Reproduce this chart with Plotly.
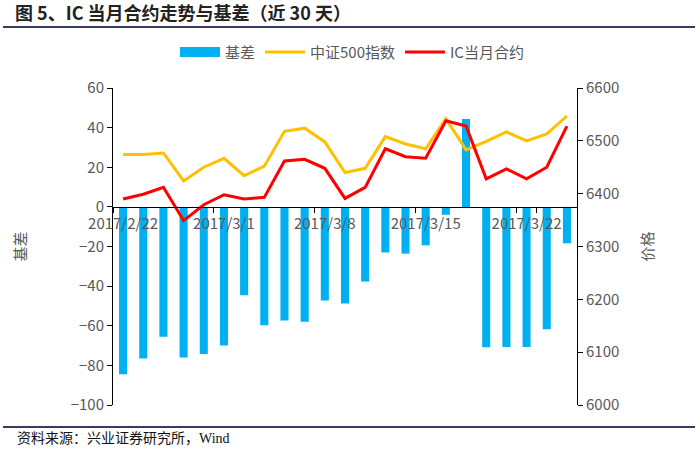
import plotly.graph_objects as go

dates = ["2017/2/22", "2017/2/23", "2017/2/24", "2017/2/27", "2017/2/28",
         "2017/3/1", "2017/3/2", "2017/3/3", "2017/3/6", "2017/3/7",
         "2017/3/8", "2017/3/9", "2017/3/10", "2017/3/13", "2017/3/14",
         "2017/3/15", "2017/3/16", "2017/3/17", "2017/3/20", "2017/3/21",
         "2017/3/22", "2017/3/23", "2017/3/24"]
basis = [-84.5, -76.5, -65.5, -76, -74.3, -70, -44.6, -59.8, -57.3, -58,
         -47.2, -48.8, -37.7, -23, -23.6, -19.4, -4, 44.3, -70.9, -70.7,
         -70.7, -61.8, -18.4]
csi500 = [6474, 6474, 6477, 6424, 6450, 6467, 6434, 6452, 6518, 6524,
          6498, 6440, 6448, 6508, 6494, 6485, 6542, 6483, 6499, 6517,
          6500, 6513, 6547]
ic_main = [6390, 6399, 6412, 6349, 6379, 6398, 6390, 6393, 6462, 6465,
           6448, 6391, 6412, 6485, 6470, 6467, 6538, 6528, 6428, 6447,
           6428, 6450, 6528]
tick_labels = ["2017/2/22", "2017/3/1", "2017/3/8", "2017/3/15", "2017/3/22"]

left_range = [-100, 60]
right_range = [6000, 6600]

FONT = "Noto Sans CJK SC, Noto Sans, sans-serif"
GRAY = "#595959"
BLUE = "#00B0F0"

fig = go.Figure()
# legend entry for the bars drawn as a wide rectangle (as in the original)
fig.add_trace(go.Scatter(x=[None], y=[None], name="基差", mode="lines",
                         line=dict(color=BLUE, width=10), yaxis="y",
                         legendgroup="basis"))
fig.add_trace(go.Bar(x=dates, y=basis, name="基差", marker_color=BLUE,
                     marker_line_width=0, yaxis="y", showlegend=False,
                     legendgroup="basis"))
fig.add_trace(go.Scatter(x=dates, y=csi500, name="中证500指数", mode="lines",
                         line=dict(color="#FFC000", width=3), yaxis="y2"))
fig.add_trace(go.Scatter(x=dates, y=ic_main, name="IC当月合约", mode="lines",
                         line=dict(color="#FF0000", width=3), yaxis="y2"))

zero_frac = (0 - left_range[0]) / (left_range[1] - left_range[0])

fig.update_layout(
    width=700, height=450,
    margin=dict(l=113, r=123, t=88, b=45),
    plot_bgcolor="white", paper_bgcolor="white",
    font=dict(family=FONT, size=15, color=GRAY),
    bargap=0.6,
    showlegend=True,
    legend=dict(orientation="h", x=0.515, xanchor="center", y=1.113,
                yanchor="middle", font=dict(size=15, color=GRAY),
                itemwidth=40, tracegroupgap=0),
    title=dict(text="<b>图 5、IC 当月合约走势与基差（近 30 天）</b>",
               x=15 / 700, xanchor="left", y=1 - 14 / 450, yanchor="middle",
               font=dict(family=FONT, size=18, color="#222222")),
    xaxis=dict(type="category", anchor="free", position=zero_frac,
               showline=True, linecolor="black", linewidth=1,
               ticks="outside", ticklen=5, tickcolor="black",
               tickson="boundaries", tickmode="array", tickvals=tick_labels,
               ticktext=tick_labels, tickangle=0, showgrid=False,
               zeroline=False, tickfont=dict(size=15, color=GRAY),
               ticklabelstandoff=3),
    yaxis=dict(range=left_range, dtick=20, showgrid=False, zeroline=False,
               showline=True, linecolor="black", linewidth=1,
               ticks="outside", ticklen=5, tickcolor="black",
               tickfont=dict(size=15, color=GRAY),
               title=dict(text="基差", standoff=40,
                          font=dict(size=15, color=GRAY))),
    yaxis2=dict(range=right_range, dtick=100, overlaying="y", side="right",
                showgrid=False, zeroline=False,
                showline=True, linecolor="black", linewidth=1,
                ticks="outside", ticklen=5, tickcolor="black",
                tickfont=dict(size=15, color=GRAY),
                title=dict(text="价格", standoff=24,
                           font=dict(size=15, color=GRAY))),
    shapes=[
        dict(type="line", xref="paper", yref="paper",
             x0=(3 - 113) / 464, x1=(695 - 113) / 464,
             y0=(405 - 27) / 317, y1=(405 - 27) / 317,
             line=dict(color="#3B3A5C", width=2)),
        dict(type="line", xref="paper", yref="paper",
             x0=(3 - 113) / 464, x1=(695 - 113) / 464,
             y0=(405 - 427) / 317, y1=(405 - 427) / 317,
             line=dict(color="#3B3A5C", width=2)),
    ],
    annotations=[
        dict(text="资料来源：兴业证券研究所，Wind", xref="paper", yref="paper",
             x=(15 - 113) / 464, y=(405 - 438) / 317, xanchor="left",
             yanchor="middle", showarrow=False,
             font=dict(family="Liberation Serif, Noto Sans CJK SC, serif",
                       size=14, color="#111111")),
    ],
)

fig.write_html("out.html", config={"displayModeBar": False},
               post_script="document.body.style.margin='0';")
